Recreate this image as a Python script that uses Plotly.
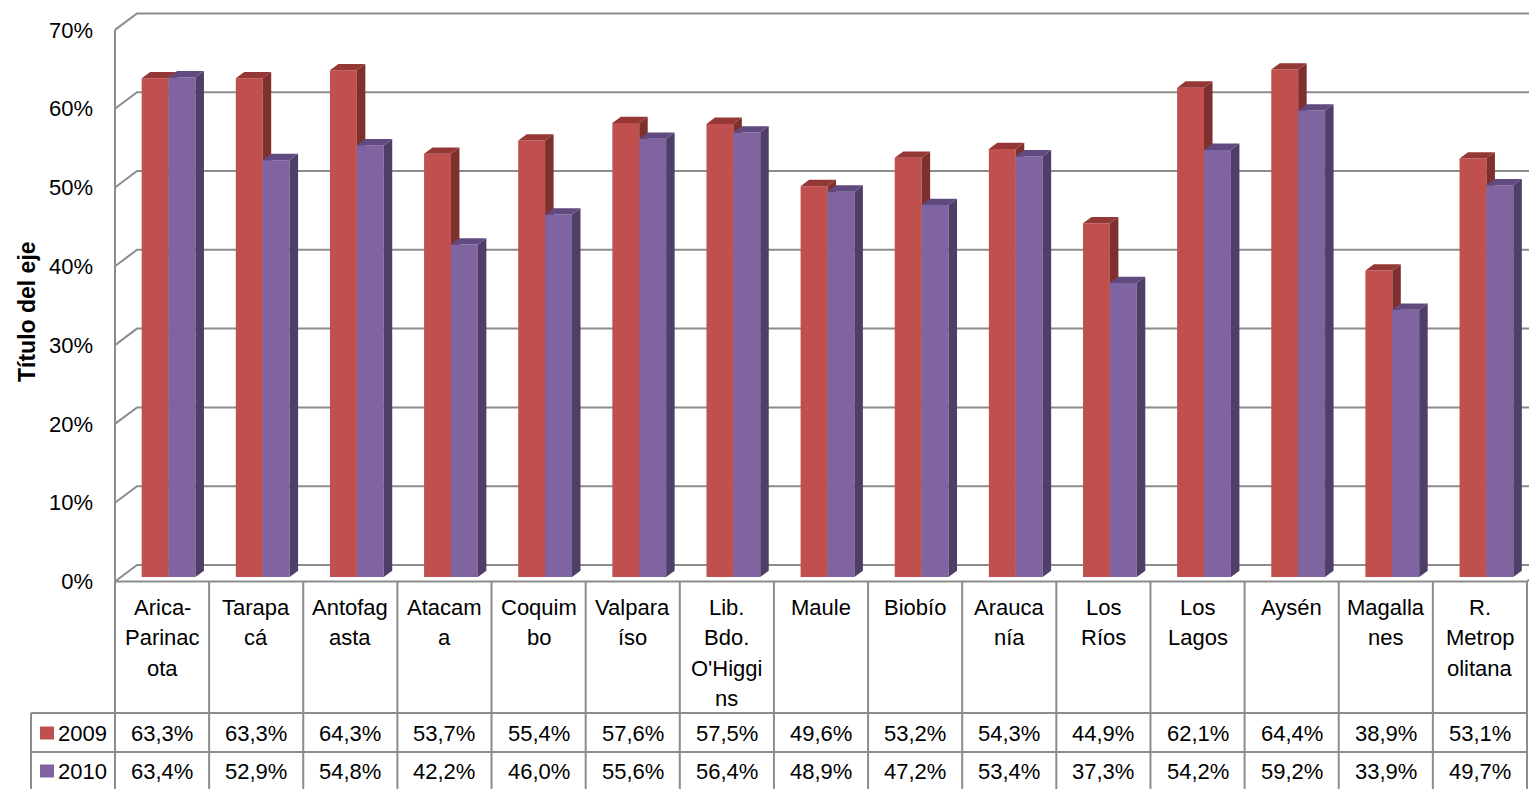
import plotly.graph_objects as go

# ---------------- data ----------------
categories = ["Arica-Parinacota", "Tarapacá", "Antofagasta", "Atacama", "Coquimbo",
              "Valparaíso", "Lib. Bdo. O'Higgins", "Maule", "Biobío", "Araucanía",
              "Los Ríos", "Los Lagos", "Aysén", "Magallanes", "R. Metropolitana"]
category_lines = [["Arica-", "Parinac", "ota"], ["Tarapa", "cá"], ["Antofag", "asta"],
                  ["Atacam", "a"], ["Coquim", "bo"], ["Valpara", "íso"],
                  ["Lib.", "Bdo.", "O'Higgi", "ns"], ["Maule"], ["Biobío"],
                  ["Arauca", "nía"], ["Los", "Ríos"], ["Los", "Lagos"], ["Aysén"],
                  ["Magalla", "nes"], ["R.", "Metrop", "olitana"]]
series_names = ["2009", "2010"]
values_2009 = [63.3, 63.3, 64.3, 53.7, 55.4, 57.6, 57.5, 49.6, 53.2, 54.3, 44.9, 62.1, 64.4, 38.9, 53.1]
values_2010 = [63.4, 52.9, 54.8, 42.2, 46.0, 55.6, 56.4, 48.9, 47.2, 53.4, 37.3, 54.2, 59.2, 33.9, 49.7]
y_ticks = [0, 10, 20, 30, 40, 50, 60, 70]
y_title = "Título del eje"

# ---------------- styling / geometry ----------------
FONT = "Liberation Sans, Arial, sans-serif"
FS = 22
GRID = "#8C8C8C"
COLORS = [  # front, side, top
    ("#C0504D", "#7E302E", "#953735"),
    ("#8064A2", "#4F3E68", "#614A7F"),
]
W, H = 1537, 789      # figure size
OFF = 8               # page body margin (screen = figure + OFF)
AX_L = 115            # front-left axis, screen px
PLOT_L = 111          # plot area left, screen px
COL = (1527 - 115) / 15.0
Y0 = 581.5            # front floor, screen px
PPP = 7.88            # pixels per percent

def dx(px):
    return px / COL

def dy(px):
    return px / PPP

def paper_x(sx):
    return (sx - PLOT_L) / (W + OFF - PLOT_L)

def paper_y(sy):
    return (H + OFF - sy) / H

BAR_W = 1 / 3.5
SHIFT_X, SHIFT_Y = dx(6.5), dy(4.5)
DEPTH_X, DEPTH_Y = dx(8.5), dy(6.3)
FLOOR_X, FLOOR_Y = dx(22), dy(16.5)
n = len(categories)
x_lo = -0.5 - dx(AX_L - PLOT_L)
x_hi = -0.5 + dx(W + OFF - AX_L)
y_lo = -(H + OFF - Y0) / PPP
y_hi = (Y0 - OFF) / PPP

fig = go.Figure()

# walls / gridlines
gx, gy = [], []
for t in y_ticks:
    gx += [-0.5, -0.5 + FLOOR_X, x_hi + 1, None]
    gy += [t, t + FLOOR_Y, t + FLOOR_Y, None]
gx += [-0.5, -0.5, None, -0.5, n - 0.5, n - 0.5 + FLOOR_X]
gy += [y_ticks[0], y_ticks[-1], None, 0, 0, FLOOR_Y]
fig.add_trace(go.Scatter(x=gx, y=gy, mode="lines", line=dict(color=GRID, width=2),
                         hoverinfo="skip", showlegend=False))

# 3D bars
for s, vals in enumerate([values_2009, values_2010]):
    front_c, side_c, top_c = COLORS[s]
    fx, fy, sx, sy, tx, ty = [], [], [], [], [], []
    for i, v in enumerate(vals):
        x0 = i - BAR_W + s * BAR_W + SHIFT_X
        x1 = x0 + BAR_W
        yb = SHIFT_Y
        yt = SHIFT_Y + v
        fx += [x0, x1, x1, x0, x0, None]
        fy += [yb, yb, yt, yt, yb, None]
        sx += [x1, x1 + DEPTH_X, x1 + DEPTH_X, x1, x1, None]
        sy += [yb, yb + DEPTH_Y, yt + DEPTH_Y, yt, yb, None]
        tx += [x0, x1, x1 + DEPTH_X, x0 + DEPTH_X, x0, None]
        ty += [yt, yt, yt + DEPTH_Y, yt + DEPTH_Y, yt, None]
    for xs, ys, c in [(fx, fy, front_c), (sx, sy, side_c), (tx, ty, top_c)]:
        fig.add_trace(go.Scatter(x=xs, y=ys, mode="lines", fill="toself", fillcolor=c,
                                 line=dict(width=0, color=c), hoverinfo="skip",
                                 name=series_names[s], showlegend=False))

# ---------------- data table ----------------
shapes = []
line = dict(color=GRID, width=2)
for k in range(n + 1):
    xp = paper_x(AX_L + k * COL)
    shapes.append(dict(type="line", xref="paper", yref="paper", x0=xp, x1=xp,
                       y0=paper_y(Y0), y1=paper_y(H + OFF + 5), line=line))
for yy in [713, 752]:
    shapes.append(dict(type="line", xref="paper", yref="paper", x0=paper_x(31),
                       x1=paper_x(AX_L + n * COL), y0=paper_y(yy), y1=paper_y(yy), line=line))
shapes.append(dict(type="line", xref="paper", yref="paper", x0=paper_x(31), x1=paper_x(31),
                   y0=paper_y(713), y1=paper_y(H + OFF + 5), line=line))

annotations = []
for i, lines in enumerate(category_lines):
    for j, txt in enumerate(lines):
        annotations.append(dict(x=i, xref="x", y=paper_y(607 + 30.5 * j), yref="paper",
                                text=txt, showarrow=False, xanchor="center", yanchor="middle",
                                font=dict(family=FONT, size=FS, color="#000000")))
row_y = [733, 771]
for s, vals in enumerate([values_2009, values_2010]):
    for i, v in enumerate(vals):
        annotations.append(dict(x=i, xref="x", y=paper_y(row_y[s]), yref="paper",
                                text=f"{v:.1f}".replace(".", ",") + "%", showarrow=False,
                                xanchor="center", yanchor="middle",
                                font=dict(family=FONT, size=FS, color="#000000")))
    annotations.append(dict(x=paper_x(56), xref="paper", y=paper_y(row_y[s]), yref="paper",
                            text=series_names[s], showarrow=False, xanchor="left", yanchor="middle",
                            font=dict(family=FONT, size=FS, color="#000000")))
    shapes.append(dict(type="rect", xref="paper", yref="paper", x0=paper_x(40), x1=paper_x(54),
                       y0=paper_y(row_y[s] + 6.5), y1=paper_y(row_y[s] - 6.5),
                       fillcolor=COLORS[s][0], line=dict(width=0)))

annotations.append(dict(x=paper_x(27), xref="paper", y=paper_y(312), yref="paper",
                        text=f"<b>{y_title}</b>", textangle=-90, showarrow=False,
                        xanchor="center", yanchor="middle",
                        font=dict(family=FONT, size=23, color="#000000")))

fig.update_layout(
    width=W, height=H,
    margin=dict(l=PLOT_L - OFF, r=0, t=0, b=0, pad=0),
    paper_bgcolor="white", plot_bgcolor="white",
    showlegend=False,
    shapes=shapes, annotations=annotations,
    xaxis=dict(range=[x_lo, x_hi], showgrid=False, zeroline=False, showline=False,
               showticklabels=False, ticks="", fixedrange=True),
    yaxis=dict(range=[y_lo, y_hi], showgrid=False, zeroline=False, showline=False,
               tickvals=y_ticks, ticktext=[f"{t}%" for t in y_ticks], ticks="",
               ticklabelstandoff=17,
               tickfont=dict(family=FONT, size=FS, color="#000000"), fixedrange=True),
)

fig.write_html("out.html")
